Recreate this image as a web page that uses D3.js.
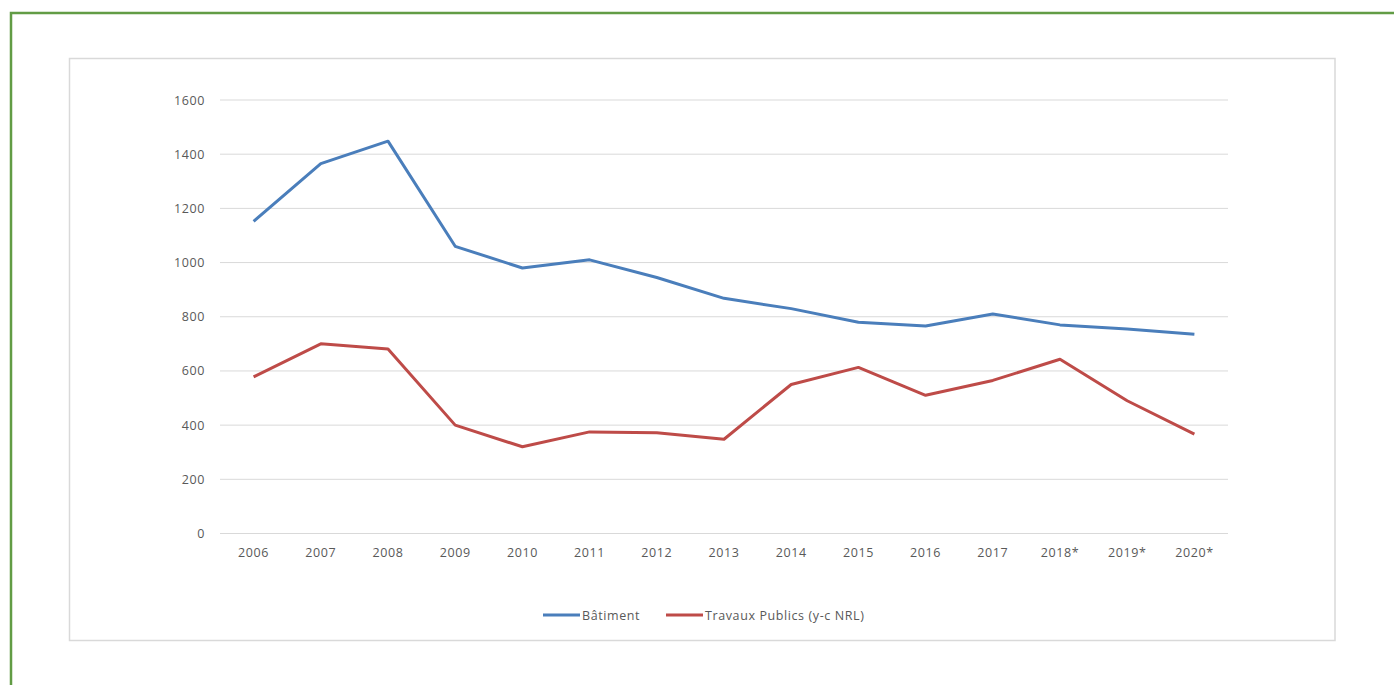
<!DOCTYPE html>
<html><head><meta charset="utf-8">
<script src="https://cdn.jsdelivr.net/npm/d3@7"></script>
<style>
html,body{margin:0;padding:0;background:#fff;}
svg{display:block;}
</style></head>
<body>
<svg id="chart" width="1394" height="685"></svg>
<script>
const categories = ["2006","2007","2008","2009","2010","2011","2012","2013","2014","2015","2016","2017","2018*","2019*","2020*"];
const batiment = [1152,1365,1448,1060,980,1010,945,868,830,780,766,810,770,755,735];
const travauxPublics = [578,700,681,400,320,375,372,348,550,613,510,565,643,490,367];
const yTicks = [0,200,400,600,800,1000,1200,1400,1600];
const seriesNames = ["Bâtiment","Travaux Publics (y-c NRL)"];
const seriesColors = ["#4a7ebb","#be4b48"];

const svg = d3.select("#chart");
const font = "'Open Sans', sans-serif";
const fs = "12.5px";
const ls = "0.6px";

// outer green frame
svg.append("rect").attr("x",11).attr("y",13).attr("width",1400).attr("height",700)
  .attr("fill","none").attr("stroke","#629c45").attr("stroke-width",2.5);
// inner chart frame
svg.append("rect").attr("x",69.5).attr("y",58.5).attr("width",1265.5).attr("height",582)
  .attr("fill","#fff").attr("stroke","#d9d9d9").attr("stroke-width",1.5);

const x = d3.scaleBand().domain(categories).range([220,1228]);
const y = d3.scaleLinear().domain([0,1600]).range([533.5,100]);

// gridlines
svg.append("g").selectAll("line").data(yTicks).join("line")
  .attr("x1",220).attr("x2",1228).attr("y1",d=>y(d)).attr("y2",d=>y(d))
  .attr("stroke","#d9d9d9").attr("stroke-width",1);

// y axis
const yAxis = d3.axisLeft(y).tickValues(yTicks).tickFormat(d3.format("d")).tickSize(0).tickPadding(15);
const ya = svg.append("g").attr("transform","translate(220,0)").call(yAxis);
ya.select(".domain").remove();
ya.selectAll("text").attr("fill","#595959").style("font-family",font).style("font-size",fs).style("letter-spacing",ls);

// x axis
const xAxis = d3.axisBottom(x).tickSize(0).tickPadding(14);
const xa = svg.append("g").attr("transform","translate(0,534.5)").call(xAxis);
xa.select(".domain").remove();
xa.selectAll("text").attr("fill","#595959").style("font-family",font).style("font-size",fs).style("letter-spacing",ls);

const line = d3.line().x((d,i)=>x(categories[i])+x.bandwidth()/2).y(d=>y(d));
[batiment,travauxPublics].forEach((s,k)=>{
  svg.append("path").datum(s).attr("d",line).attr("fill","none")
    .attr("stroke",seriesColors[k]).attr("stroke-width",3).attr("stroke-linejoin","round");
});

// legend
const legend = [{x:543,name:seriesNames[0],c:seriesColors[0]},{x:666,name:seriesNames[1],c:seriesColors[1]}];
legend.forEach(l=>{
  svg.append("line").attr("x1",l.x).attr("x2",l.x+37).attr("y1",615).attr("y2",615)
    .attr("stroke",l.c).attr("stroke-width",3);
  svg.append("text").attr("x",l.x+39).attr("y",619.5).text(l.name)
    .attr("fill","#595959").style("font-family",font).style("font-size",fs).style("letter-spacing",ls);
});
</script>
</body></html>
